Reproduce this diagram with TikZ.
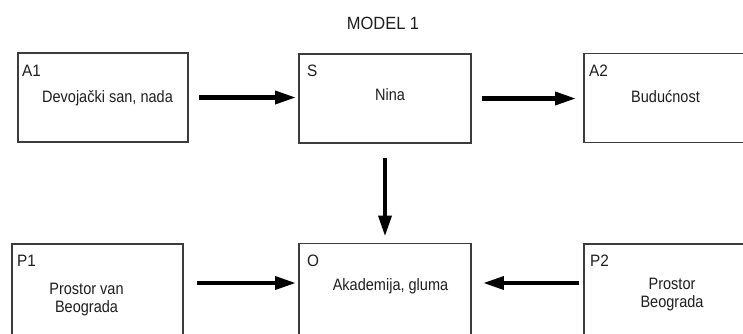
\documentclass[tikz,border=0pt]{standalone}
\usepackage{fontspec}
\setmainfont{Liberation Sans}[FakeStretch=0.93]
\newfontfamily\narrowsans{Liberation Sans}[FakeStretch=0.88]
\usetikzlibrary{arrows.meta}
\definecolor{framegray}{HTML}{3C3C3C}
\definecolor{inkblack}{HTML}{1E1E1E}
\begin{document}
\begin{tikzpicture}[x=1pt,y=-1pt,
  panel/.style={draw=framegray, line width=1.6pt, rectangle, inner sep=0pt,
                minimum width=171pt},
  toprow/.style={panel, minimum height=89pt},
  botrow/.style={panel, minimum height=92pt},
  tag/.style={anchor=north west, inner sep=0pt, text=inkblack,
              font=\fontsize{16.5}{19}\selectfont},
  body/.style={inner sep=0pt, text=inkblack, align=center,
               font=\narrowsans\fontsize{16.5}{18}\selectfont},
  flow/.style={line width=4.5pt, draw=black,
               -{Triangle[length=21pt,width=12.5pt]}}
]
\useasboundingbox (0,0) rectangle (743,333);
\clip (0,0) rectangle (743,333);

% title
\node[inner sep=0pt, text=inkblack, font=\fontsize{17.7}{20}\selectfont]
  (title) at (383,23) {MODEL 1};

% upper row of panels
\node[toprow, minimum width=170pt] (A1) at (103,97.5) {};
\node[toprow, minimum width=172pt] (S)  at (385,98.5) {};
\node[toprow, minimum width=172pt] (A2) at (670,98) {};

% lower row of panels (their bottoms run off the page)
\node[botrow] (P1) at (97.5,290) {};
\node[botrow, minimum width=172pt] (O)  at (385,289.5) {};
\node[botrow, minimum width=172pt] (P2) at (670,290) {};

% corner tags
\node[tag] (tA1) at (22,65) {A1};
\node[tag] (tS)  at (307,65) {S};
\node[tag] (tA2) at (589,65) {A2};
\node[tag] (tP1) at (17,255) {P1};
\node[tag] (tO)  at (307,255) {O};
\node[tag] (tP2) at (590,255) {P2};

% panel contents
\node[body, anchor=base] (xA1) at (107.5,102.5) {Devojački san, nada};
\node[body, anchor=base] (xS)  at (390,100) {Nina};
\node[body, anchor=base] (xA2) at (665.5,102.5) {Budućnost};
\node[body, anchor=base] (xO)  at (390.5,290) {Akademija, gluma};
\node[body, anchor=north] (xP1) at (86.5,283) {Prostor van\\Beograda};
\node[body, anchor=north] (xP2) at (672,278) {Prostor\\Beograda};

% connectors
\draw[flow, shorten <=10pt, shorten >=2pt] (A1.east) -- (A1.east -| S.west);
\draw[flow, shorten <=10pt, shorten >=7pt] (S.east) -- (S.east -| A2.west);
\draw[flow, shorten <=14pt, shorten >=6pt] (S.south) -- (S.south |- O.north);

\coordinate (p1out) at ([yshift=7pt]P1.east);
\coordinate (p2out) at ([yshift=7pt]P2.west);
\draw[flow, shorten <=13pt, shorten >=2pt] (p1out) -- (p1out -| O.west);
\draw[flow, shorten <=4pt, shorten >=11pt] (p2out) -- (p2out -| O.east);
\end{tikzpicture}
\end{document}
